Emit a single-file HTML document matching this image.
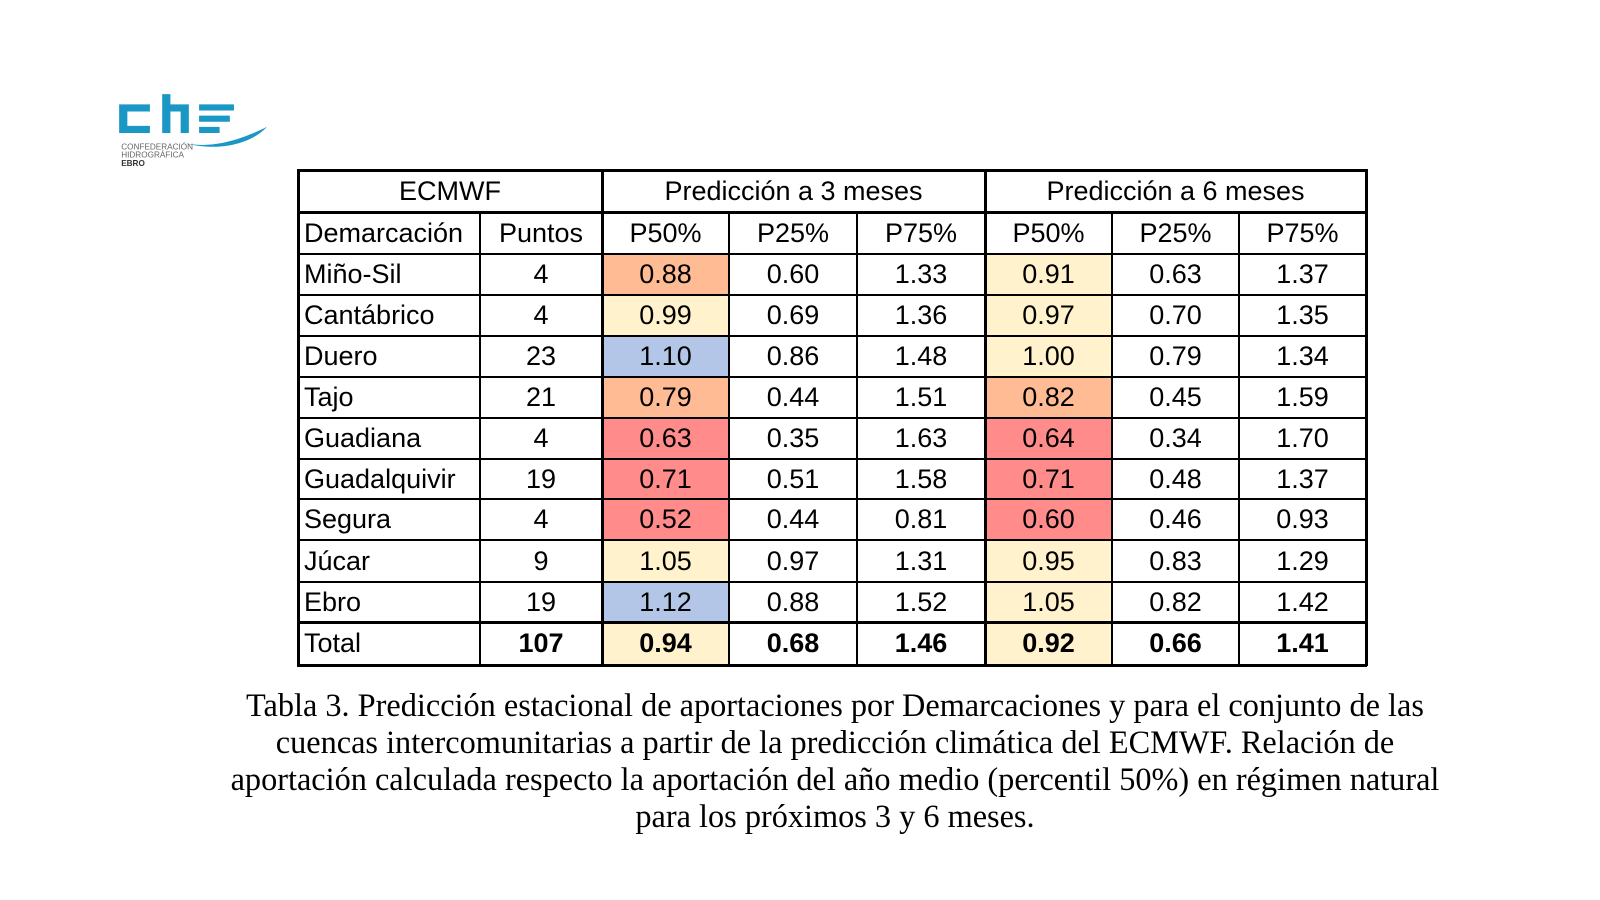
<!DOCTYPE html>
<html><head><meta charset="utf-8">
<style>
body{margin:0;width:1600px;height:900px;background:#fff;position:relative;overflow:hidden;font-family:"Liberation Sans",sans-serif}
.c{position:absolute;display:flex;align-items:center;justify-content:center;font-size:27px;color:#000;box-sizing:border-box}
.l{justify-content:flex-start;padding-left:6px}
.ln{position:absolute;background:#000}
#cap{position:absolute;left:120px;width:1430px;top:687px;text-align:center;font-family:"Liberation Serif",serif;font-size:32.3px;line-height:37px;color:#000}
</style></head><body>
<svg style="position:absolute;left:113px;top:90px" width="164" height="82" viewBox="0 0 160 80">
<g fill="#1a97c4">
<path d="M6 14h30v7H14v14h22v7H6z"/>
<path d="M48 4h8v10h18v28h-8V21H56v21h-8z"/>
<path d="M84 14h34v6H84zM84 25h30v6H84zM84 36h20v6H84z"/>
<path d="M70 52c30 6 60-6 80-16c-10 12-40 26-80 16z"/>
</g>
<text x="8" y="58" font-size="8" fill="#666" font-family="Liberation Sans">CONFEDERACIÓN</text>
<text x="8" y="66" font-size="8" fill="#666" font-family="Liberation Sans">HIDROGRÁFICA</text>
<text x="8" y="74" font-size="8" fill="#333" font-weight="bold" font-family="Liberation Sans">EBRO</text>
</svg>
<div id="tbl"></div>
<div id="cap">Tabla 3. Predicción estacional de aportaciones por Demarcaciones y para el conjunto de las<br>cuencas intercomunitarias a partir de la predicción climática del ECMWF. Relación de<br>aportación calculada respecto la aportación del año medio (percentil 50%) en régimen natural<br>para los próximos 3 y 6 meses.</div>
<script>
const regions=["Miño-Sil","Cantábrico","Duero","Tajo","Guadiana","Guadalquivir","Segura","Júcar","Ebro","Total"];
const puntos=["4","4","23","21","4","19","4","9","19","107"];
const p50_3=["0.88","0.99","1.10","0.79","0.63","0.71","0.52","1.05","1.12","0.94"];
const p25_3=["0.60","0.69","0.86","0.44","0.35","0.51","0.44","0.97","0.88","0.68"];
const p75_3=["1.33","1.36","1.48","1.51","1.63","1.58","0.81","1.31","1.52","1.46"];
const p50_6=["0.91","0.97","1.00","0.82","0.64","0.71","0.60","0.95","1.05","0.92"];
const p25_6=["0.63","0.70","0.79","0.45","0.34","0.48","0.46","0.83","0.82","0.66"];
const p75_6=["1.37","1.35","1.34","1.59","1.70","1.37","0.93","1.29","1.42","1.41"];
const colX=[298,480,602,729,857,985,1112,1239,1366];
const rowY=[170,212,254,295,336,377,418,459,499,540,582,622,665];
function col(v){v=parseFloat(v);if(v>=1.06)return"#b4c6e7";if(v>=0.9)return"#fff2cc";if(v>=0.75)return"#ffbb94";return"#ff8b8b";}
const T=document.getElementById('tbl');
function cell(x0,x1,y0,y1,txt,cls,bg,bold,name){
 const d=document.createElement('div');
 d.className='c'+(cls?' '+cls:'');
 d.style.left=x0+'px';d.style.top=y0+'px';d.style.width=(x1-x0)+'px';d.style.height=(y1-y0)+'px';
 if(bg)d.style.background=bg;if(bold)d.style.fontWeight='bold';
 d.textContent=txt;
 
 
 T.appendChild(d);
}
cell(colX[0],colX[2],rowY[0],rowY[1],"ECMWF","",null,false,"header-ecmwf");
cell(colX[2],colX[5],rowY[0],rowY[1],"Predicción a 3 meses","",null,false,"header-3-months");
cell(colX[5],colX[8],rowY[0],rowY[1],"Predicción a 6 meses","",null,false,"header-6-months");
const heads=["Demarcación","Puntos","P50%","P25%","P75%","P50%","P25%","P75%"];
heads.forEach((h,i)=>cell(colX[i],colX[i+1],rowY[1],rowY[2],h,i==0?"l":"",null,false,"column-header"));
const cols=[puntos,p50_3,p25_3,p75_3,p50_6,p25_6,p75_6];
regions.forEach((r,j)=>{
 const y0=rowY[j+2],y1=rowY[j+3],tot=j==9;
 cell(colX[0],colX[1],y0,y1,r,"l",null,false,"region-name");
 cols.forEach((a,i)=>{
  const bg=(i==1||i==4)?col(a[j]):null;
  cell(colX[i+1],colX[i+2],y0,y1,a[j],"",bg,tot,"value-cell");
 });
});
function line(x,y,w,h){const d=document.createElement('div');d.className='ln';d.style.left=x+'px';d.style.top=y+'px';d.style.width=w+'px';d.style.height=h+'px';


T.appendChild(d);}
const W=colX[8]-colX[0];
rowY.forEach((y,i)=>{const t=(i==0||i==12||i==1||i==11)?3:2;line(colX[0]-1,y-1,W+2,t);});
colX.forEach((x,i)=>{const t=(i==0||i==8||i==2||i==5)?3:2;const y0=(i==1||i==3||i==4||i==6||i==7)?rowY[1]:rowY[0];line(x-1,y0-1,t,rowY[12]-y0+2);});
</script>
</body></html>
